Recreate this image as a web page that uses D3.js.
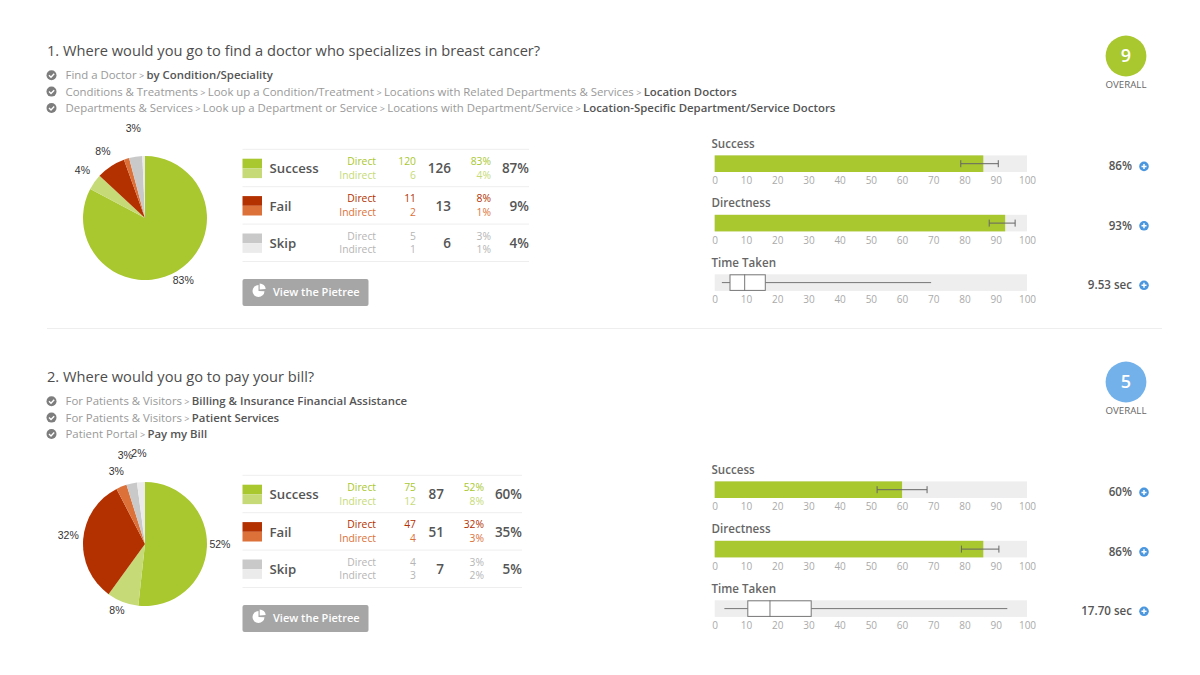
<!DOCTYPE html>
<html>
<head>
<meta charset="utf-8">
<script src="https://cdn.jsdelivr.net/npm/d3@7"></script>
<style>
  html, body { margin: 0; background: #fff; }
  text { font-family: "Open Sans", sans-serif; }
</style>
</head>
<body>
<div id="chart"></div>
<script>
const outcomes = ["Success", "Fail", "Skip"];
const kinds = ["Direct", "Indirect"];
const axisTicks = [0, 10, 20, 30, 40, 50, 60, 70, 80, 90, 100];
const metricNames = ["Success", "Directness", "Time Taken"];

const q1Title = "1. Where would you go to find a doctor who specializes in breast cancer?";
const q1Paths = [
  ["Find a Doctor", "by Condition/Speciality"],
  ["Conditions & Treatments", "Look up a Condition/Treatment", "Locations with Related Departments & Services", "Location Doctors"],
  ["Departments & Services", "Look up a Department or Service", "Locations with Department/Service", "Location-Specific Department/Service Doctors"]
];
const q1Score = 9;
const q1Counts = [120, 6, 11, 2, 5, 1];
const q1Percents = [83, 4, 8, 1, 3, 1];
const q1Totals = [126, 13, 6];
const q1TotalPercents = [87, 9, 4];
const q1Success = [78.8, 86, 90.8];
const q1Directness = [87.9, 93, 96.2];
const q1Time = [2.3, 4.9, 9.6, 16.2, 69.3];
const q1Labels = ["86%", "93%", "9.53 sec"];

const q2Title = "2. Where would you go to pay your bill?";
const q2Paths = [
  ["For Patients & Visitors", "Billing & Insurance Financial Assistance"],
  ["For Patients & Visitors", "Patient Services"],
  ["Patient Portal", "Pay my Bill"]
];
const q2Score = 5;
const q2Counts = [75, 12, 47, 4, 4, 3];
const q2Percents = [52, 8, 32, 3, 3, 2];
const q2Totals = [87, 51, 7];
const q2TotalPercents = [60, 35, 5];
const q2Success = [52, 60, 68];
const q2Directness = [79, 86, 91];
const q2Time = [3.1, 10.6, 17.7, 30.9, 93.7];
const q2Labels = ["60%", "86%", "17.70 sec"];

// layout and colours
const sliceColors = ["#a9c72f", "#c6da77", "#b33000", "#dc7139", "#c9c9c9", "#ebebeb"];
const textColors = ["#a9c72f", "#c6da77", "#b33000", "#dc7139", "#b5b5b5", "#b5b5b5"];
const dark = "#555", grey = "#999";

// label nudges away from the arc, they were placed a bit unevenly in the original
const q1Nudges = [[-2, -5], [1, -3], [1, -2], [0, 0], [0, -13], [0, 0]];
const q2Nudges = [[-3, -4], [0, -6], [1, -3], [1, -1], [-3, -13], [-1, -13]];

const svg = d3.select("#chart").append("svg").attr("width", 1200).attr("height", 675);
svg.style("display", "block");

const x = d3.scaleLinear().domain([0, 100]).range([714.7, 1027]);

function label(g, px, py, str, size, color, weight, anchor) {
  return g.append("text")
    .attr("x", px).attr("y", py)
    .attr("dy", "0.35em")
    .attr("text-anchor", anchor || "start")
    .attr("font-size", size)
    .attr("font-weight", weight || 400)
    .attr("fill", color)
    .text(str);
}

function drawHeader(g, title, paths, score, scoreColor) {
  label(g, 47, 51, title, 14.65, "#4d4d4d");
  paths.forEach((path, i) => {
    const py = 75.2 + i * 16.4;
    g.append("circle").attr("cx", 51.5).attr("cy", py).attr("r", 5).attr("fill", "#7d7d7d");
    g.append("path")
      .attr("d", `M${49},${py} l2,2 l3.2,-3.4`)
      .attr("fill", "none").attr("stroke", "#fff").attr("stroke-width", 1.4);
    const t = label(g, 65.5, py, "", 11.4, grey);
    path.forEach((part, j) => {
      const last = j === path.length - 1;
      t.append("tspan")
        .attr("fill", last ? dark : grey)
        .attr("font-weight", last ? 600 : 400)
        .text(part);
      if (!last) t.append("tspan").attr("fill", grey).attr("font-size", 9).text(" > ");
    });
  });
  g.append("circle").attr("cx", 1126).attr("cy", 56).attr("r", 20.4).attr("fill", scoreColor);
  label(g, 1126, 56, score, 18, "#fff", 600, "middle");
  label(g, 1126, 85, "OVERALL", 9.7, "#666", 400, "middle");
}

function drawPie(g, counts, percents, nudges) {
  const center = g.append("g").attr("transform", "translate(145,218)");
  const slices = d3.pie().sort(null)(counts);
  const arc = d3.arc().innerRadius(0).outerRadius(62);
  const labelArc = d3.arc().innerRadius(78).outerRadius(78);
  center.selectAll("path").data(slices).join("path")
    .attr("d", arc)
    .attr("fill", (d, i) => sliceColors[i]);
  slices.forEach((s, i) => {
    if (percents[i] < 2) return; // 1% slices have no label
    const [cx, cy] = labelArc.centroid(s);
    label(center, cx + nudges[i][0], cy + nudges[i][1], percents[i] + "%", 10.5, "#333", 400, "middle")
      .style("font-family", "'Liberation Sans', sans-serif");
  });
}

function drawTable(g, counts, percents, totals, totalPercents, right) {
  const rowStep = 37.4;
  const totalX = right - 78, pctX = right - 38;
  const line = py => g.append("line")
    .attr("x1", 242.5).attr("x2", right).attr("y1", py).attr("y2", py)
    .attr("stroke", "#eee");
  line(149.3);
  outcomes.forEach((name, r) => {
    const top = 158.7 + r * rowStep;
    line(149.3 + (r + 1) * rowStep);
    kinds.forEach((kind, k) => {
      const idx = r * 2 + k;
      const py = 161.2 + r * rowStep + k * 13.8;
      g.append("rect")
        .attr("x", 242.5).attr("y", top + k * 9.7).attr("width", 19.5).attr("height", 9.7)
        .attr("fill", sliceColors[idx]);
      label(g, 376, py, kind, 10.3, textColors[idx], 400, "end");
      label(g, 416, py, counts[idx], 10.3, textColors[idx], 400, "end");
      label(g, pctX, py, percents[idx] + "%", 10.3, textColors[idx], 400, "end");
    });
    const mid = 168.5 + r * rowStep;
    label(g, 269.5, mid, name, 13.2, dark, 600);
    label(g, totalX, mid, totals[r], 13.5, dark, 600, "end");
    label(g, right, mid, totalPercents[r] + "%", 13.5, dark, 600, "end");
  });
  // button
  g.append("rect")
    .attr("x", 242.5).attr("y", 279).attr("width", 126).attr("height", 27).attr("rx", 2)
    .attr("fill", "#a6a6a6");
  const icon = g.append("g").attr("transform", "translate(258.5,291)");
  const iconArc = d3.arc().innerRadius(0).outerRadius(6);
  icon.append("path").attr("d", iconArc({ startAngle: 1.6, endAngle: 2 * Math.PI })).attr("fill", "#fff");
  icon.append("path").attr("d", iconArc({ startAngle: 0, endAngle: 1.5 }))
    .attr("transform", "translate(1.2,-1.5)").attr("fill", "#fff");
  label(g, 273, 292, "View the Pietree", 11, "#fff", 600);
}

function drawMetric(g, name, top, valueLabel, draw) {
  const h = 16.6, mid = top + h / 2;
  label(g, 711.5, top - 11.5, name, 11.6, "#666", 600);
  g.append("rect")
    .attr("x", x(0)).attr("y", top).attr("width", x(100) - x(0)).attr("height", h)
    .attr("fill", "#eeeeee");
  draw(mid, h);
  const axis = g.append("g")
    .attr("transform", `translate(0,${top + h + 3.2})`)
    .call(d3.axisBottom(x).tickValues(axisTicks).tickSize(0).tickPadding(2).tickFormat(d3.format("d")));
  axis.select(".domain").remove();
  axis.selectAll("text")
    .attr("fill", "#aaa")
    .attr("font-size", 10)
    .attr("font-family", "'Open Sans', sans-serif");
  const side = mid + 2.7; // value and plus icon sit a little below the bar centre
  label(g, 1132, side, valueLabel, 11.6, dark, 600, "end");
  g.append("circle").attr("cx", 1144).attr("cy", side).attr("r", 4.8).attr("fill", "#4a97e0");
  g.append("path")
    .attr("d", `M1141.5,${side} h5 M1144,${side - 2.5} v5`)
    .attr("stroke", "#fff").attr("stroke-width", 1.5);
}

function drawBar(g, name, top, values, valueLabel) {
  const [lo, val, hi] = values;
  drawMetric(g, name, top, valueLabel, (mid, h) => {
    g.append("rect")
      .attr("x", x(0)).attr("y", top).attr("width", x(val) - x(0)).attr("height", h)
      .attr("fill", "#a9c72f");
    g.append("path")
      .attr("d", `M${x(lo)},${mid - 3.5} v7 M${x(lo)},${mid} H${x(hi)} M${x(hi)},${mid - 3.5} v7`)
      .attr("fill", "none").attr("stroke", "#666");
  });
}

function drawBox(g, name, top, values, valueLabel) {
  const [w0, q1, med, q3, w1] = values;
  drawMetric(g, name, top, valueLabel, (mid, h) => {
    g.append("path")
      .attr("d", `M${x(w0)},${mid} H${x(w1)}`)
      .attr("stroke", "#777");
    g.append("rect")
      .attr("x", x(q1)).attr("y", top + 0.5).attr("width", x(q3) - x(q1)).attr("height", h - 1)
      .attr("fill", "#fff").attr("stroke", "#777");
    g.append("path")
      .attr("d", `M${x(med)},${top} v${h}`)
      .attr("stroke", "#777");
  });
}

function drawQuestion(offset, q) {
  const g = svg.append("g").attr("transform", `translate(0,${offset})`);
  drawHeader(g, q.title, q.paths, q.score, q.scoreColor);
  drawPie(g, q.counts, q.percents, q.nudges);
  drawTable(g, q.counts, q.percents, q.totals, q.totalPercents, q.right);
  drawBar(g, metricNames[0], 155.4, q.success, q.labels[0]);
  drawBar(g, metricNames[1], 214.8, q.directness, q.labels[1]);
  drawBox(g, metricNames[2], 274.3, q.time, q.labels[2]);
}

drawQuestion(0, {
  title: q1Title, paths: q1Paths, score: q1Score, scoreColor: "#a9c72f",
  counts: q1Counts, percents: q1Percents, totals: q1Totals, totalPercents: q1TotalPercents,
  nudges: q1Nudges, right: 529,
  success: q1Success, directness: q1Directness, time: q1Time, labels: q1Labels
});

svg.append("line")
  .attr("x1", 47).attr("x2", 1162).attr("y1", 328.5).attr("y2", 328.5)
  .attr("stroke", "#eee");

drawQuestion(326, {
  title: q2Title, paths: q2Paths, score: q2Score, scoreColor: "#72b1ea",
  counts: q2Counts, percents: q2Percents, totals: q2Totals, totalPercents: q2TotalPercents,
  nudges: q2Nudges, right: 522,
  success: q2Success, directness: q2Directness, time: q2Time, labels: q2Labels
});
</script>
</body>
</html>
